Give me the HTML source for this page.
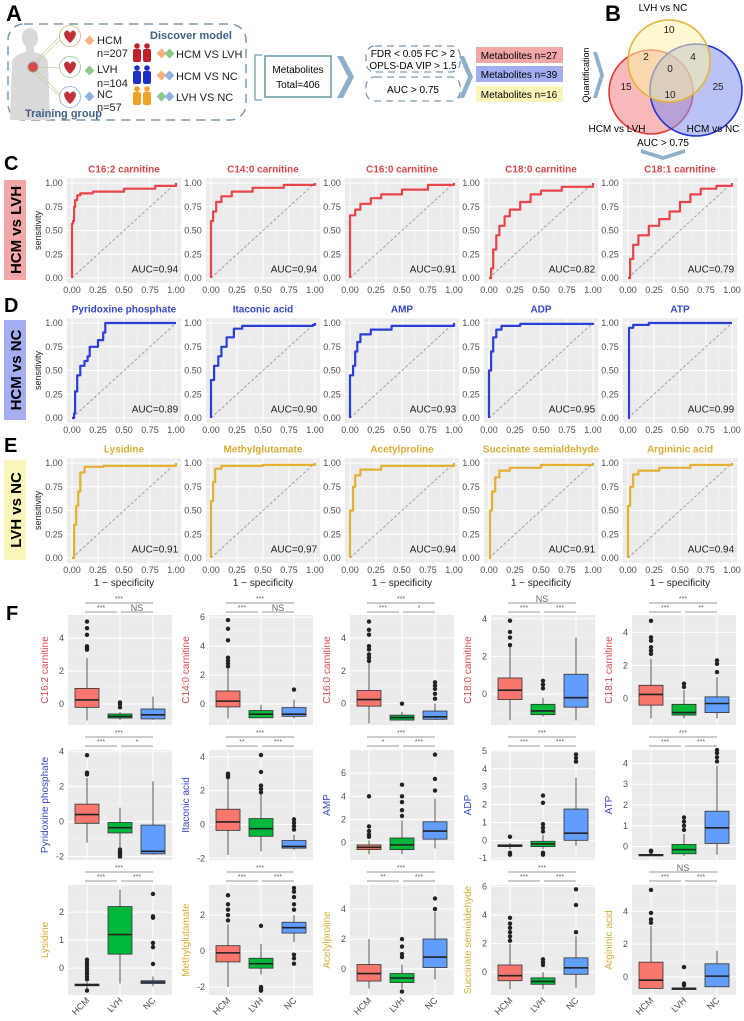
<!DOCTYPE html>
<html><head><meta charset="utf-8"><style>
html,body{margin:0;padding:0;background:#fff;}
svg{display:block;font-family:"Liberation Sans",Arial,sans-serif;}
</style></head><body>
<svg id="fig" width="744" height="1021" viewBox="0 0 744 1021" xmlns="http://www.w3.org/2000/svg">
<!-- Panel A -->
<g>
<text x="6" y="21" font-size="22" font-weight="bold">A</text>
<rect x="8" y="24" width="238" height="96" rx="16" fill="none" stroke="#7a9bb0" stroke-width="1.5" stroke-dasharray="9,6"/>
<g fill="#d9d9d9">
<ellipse cx="30" cy="38" rx="8" ry="10"/>
<rect x="26" y="46" width="8" height="8"/>
<path d="M10 120 L12 62 Q14 54 26 52 L34 52 Q46 54 48 62 L50 120 Z"/>
</g>
<g stroke="#c9c79a" stroke-width="0.7">
<line x1="36" y1="64" x2="62" y2="38"/><line x1="36" y1="67" x2="60" y2="68"/><line x1="36" y1="70" x2="62" y2="96"/>
<line x1="33" y1="64" x2="64" y2="32"/><line x1="33" y1="72" x2="64" y2="100"/>
</g>
<circle cx="33" cy="67" r="5" fill="#d44" stroke="#999"/>
<g>
<circle cx="70" cy="36" r="10.5" fill="#fff" stroke="#d9c08a" stroke-width="1"/><path d="M64 33 q3-5 6 0 q3-5 6 0 q0 5-6 10 q-6-5-6-10z" fill="#c0323a"/>
<circle cx="70" cy="67" r="10.5" fill="#fff" stroke="#a8cfa0" stroke-width="1"/><path d="M64 64 q3-5 6 0 q3-5 6 0 q0 5-6 10 q-6-5-6-10z" fill="#c0323a"/>
<circle cx="70" cy="97" r="10.5" fill="#fff" stroke="#9bbbd8" stroke-width="1"/><path d="M64 94 q3-5 6 0 q3-5 6 0 q0 5-6 10 q-6-5-6-10z" fill="#c0323a"/>
</g>
<g>
<rect x="86" y="37" width="7" height="7" fill="#f3b27f" transform="rotate(45 89.5 40.5)"/>
<rect x="86" y="67" width="7" height="7" fill="#8cc98a" transform="rotate(45 89.5 70.5)"/>
<rect x="86" y="93" width="7" height="7" fill="#8fb2e0" transform="rotate(45 89.5 96.5)"/>
</g>
<g font-size="11" fill="#222">
<text x="97" y="44">HCM</text><text x="97" y="57">n=207</text>
<text x="97" y="73">LVH</text><text x="97" y="87">n=104</text>
<text x="97" y="98">NC</text><text x="97" y="111">n=57</text>
</g>
<text x="25" y="117" font-size="11" font-weight="bold" fill="#3f5f86">Training group</text>
<text x="150" y="39" font-size="11" font-weight="bold" fill="#3f5f86">Discover model</text>
<g>
<g fill="#c0202a"><circle cx="137" cy="46" r="2.8"/><rect x="133" y="49" width="8" height="13" rx="2"/><circle cx="147" cy="46" r="2.8"/><rect x="143" y="49" width="8" height="13" rx="2"/></g>
<g fill="#1d2fc8"><circle cx="137" cy="68" r="2.8"/><rect x="133" y="71" width="8" height="13" rx="2"/><circle cx="147" cy="68" r="2.8"/><rect x="143" y="71" width="8" height="13" rx="2"/></g>
<g fill="#f2a227"><circle cx="137" cy="89" r="2.8"/><rect x="133" y="92" width="8" height="13" rx="2"/><circle cx="147" cy="89" r="2.8"/><rect x="143" y="92" width="8" height="13" rx="2"/></g>
</g>
<g>
<rect x="158" y="50" width="7" height="7" fill="#f3b27f" transform="rotate(45 161.5 53.5)"/><rect x="166" y="50" width="7" height="7" fill="#8cc98a" transform="rotate(45 169.5 53.5)"/>
<rect x="158" y="72" width="7" height="7" fill="#f3b27f" transform="rotate(45 161.5 75.5)"/><rect x="166" y="72" width="7" height="7" fill="#8fb2e0" transform="rotate(45 169.5 75.5)"/>
<rect x="158" y="93" width="7" height="7" fill="#8cc98a" transform="rotate(45 161.5 96.5)"/><rect x="166" y="93" width="7" height="7" fill="#8fb2e0" transform="rotate(45 169.5 96.5)"/>
</g>
<g font-size="11" fill="#222">
<text x="176" y="58">HCM VS LVH</text><text x="176" y="80">HCM VS NC</text><text x="176" y="101">LVH VS NC</text>
</g>
<path d="M262 55 L255 55 L255 100 L262 100" fill="none" stroke="#6fa0b0" stroke-width="1.3"/>
<rect x="265" y="56" width="66" height="41" fill="#fff" stroke="#4a8a96" stroke-width="1.3"/>
<text x="298" y="73" font-size="10" text-anchor="middle">Metabolites</text>
<text x="298" y="88" font-size="10" text-anchor="middle">Total=406</text>
<path d="M337 56 L348 77 L337 98 L343 98 L354 77 L343 56Z" fill="#8fb0c8"/>
<rect x="366" y="46" width="94" height="26" rx="9" fill="none" stroke="#7a9bb0" stroke-dasharray="7,5" stroke-width="1.3"/>
<text x="413" y="57" font-size="10" text-anchor="middle">FDR &lt; 0.05 FC &gt; 2</text>
<text x="413" y="69" font-size="10" text-anchor="middle">OPLS-DA VIP &gt; 1.5</text>
<rect x="366" y="77" width="94" height="24" rx="9" fill="none" stroke="#7a9bb0" stroke-dasharray="7,5" stroke-width="1.3"/>
<text x="413" y="93" font-size="10" text-anchor="middle">AUC &gt; 0.75</text>
<path d="M459 56 L468 77 L459 98 L464 98 L473 77 L464 56Z" fill="#8fb0c8"/>
<rect x="476" y="47" width="87" height="16" fill="#f4a7a7"/>
<text x="519" y="59" font-size="10" text-anchor="middle">Metabolites n=27</text>
<rect x="476" y="66" width="87" height="16" fill="#a3aef2"/>
<text x="519" y="78" font-size="10" text-anchor="middle">Metabolites n=39</text>
<rect x="476" y="86" width="87" height="16" fill="#fbf6b9"/>
<text x="519" y="98" font-size="10" text-anchor="middle">Metabolites n=16</text>
<text x="0" y="0" font-size="9" text-anchor="middle" transform="translate(589 75) rotate(-90)">Quantification</text>
<path d="M593 52 L600 75 L593 98 L597 98 L604 75 L597 52Z" fill="#8fb0c8"/>
</g>
<!-- Panel B -->
<g>
<text x="605" y="21" font-size="22" font-weight="bold">B</text>
<circle cx="651" cy="92" r="42" fill="#f28a8a" fill-opacity="0.6" stroke="#e23b3b" stroke-width="1.6"/>
<circle cx="696" cy="90" r="46" fill="#8390ef" fill-opacity="0.55" stroke="#2234d6" stroke-width="1.6"/>
<circle cx="669" cy="61" r="41" fill="#fbf2a8" fill-opacity="0.55" stroke="#e2b43a" stroke-width="1.6"/>
<g font-size="10" text-anchor="middle" fill="#222">
<text x="669" y="33">10</text><text x="646" y="60">2</text><text x="693" y="60">4</text><text x="670" y="72">0</text>
<text x="626" y="90">15</text><text x="670" y="98">10</text><text x="718" y="90">25</text>
</g>
<text x="663" y="11" font-size="10" text-anchor="middle">LVH vs NC</text>
<text x="617" y="132" font-size="10" text-anchor="middle">HCM vs LVH</text>
<text x="713" y="132" font-size="10" text-anchor="middle">HCM vs NC</text>
<text x="663" y="146" font-size="10" text-anchor="middle">AUC &gt; 0.75</text>
<path d="M641 149 L663 156 L685 149 L685 153 L663 160 L641 153Z" fill="#8fb0c8"/>
</g>
<!-- Row labels -->
<text x="4" y="170" font-size="20" font-weight="bold">C</text>
<text x="4" y="312" font-size="20" font-weight="bold">D</text>
<text x="4" y="452" font-size="20" font-weight="bold">E</text>
<text x="6" y="620" font-size="20" font-weight="bold">F</text>
<rect x="4" y="180" width="22" height="100" fill="#f4a7a7"/>
<text font-size="15" font-weight="bold" text-anchor="middle" transform="translate(21 230) rotate(-90)">HCM vs LVH</text>
<rect x="4" y="320" width="22" height="100" fill="#a3aef2"/>
<text font-size="15" font-weight="bold" text-anchor="middle" transform="translate(21 370) rotate(-90)">HCM vs NC</text>
<rect x="4" y="460" width="22" height="100" fill="#fbf6b9"/>
<text font-size="15" font-weight="bold" text-anchor="middle" transform="translate(21 510) rotate(-90)">LVH vs NC</text>
<g id="roc"></g>
<g id="box"></g>
</svg>
<script>
// ---------- ROC data ----------
const rocTitles = ["C16:2 carnitine","C14:0 carnitine","C16:0 carnitine","C18:0 carnitine","C18:1 carnitine",
 "Pyridoxine phosphate","Itaconic acid","AMP","ADP","ATP",
 "Lysidine","Methylglutamate","Acetylproline","Succinate semialdehyde","Argininic acid"];
const rocAuc = ["0.94","0.94","0.91","0.82","0.79","0.89","0.90","0.93","0.95","0.99","0.91","0.97","0.94","0.91","0.94"];
const rocFpr = [
 [0,0,0.01,0.02,0.03,0.05,0.08,0.2,0.5,0.8,1],
 [0,0,0.02,0.05,0.1,0.2,0.4,0.7,1],
 [0,0,0.05,0.1,0.2,0.3,0.5,0.75,1],
 [0,0.02,0.04,0.07,0.1,0.15,0.2,0.3,0.4,0.5,0.7,1],
 [0,0.02,0.05,0.1,0.2,0.3,0.4,0.5,0.6,0.7,0.85,1],
 [0,0.02,0.03,0.05,0.08,0.12,0.15,0.17,0.25,0.3,0.32,1],
 [0,0,0.03,0.07,0.1,0.15,0.22,0.3,0.98,1],
 [0,0,0.03,0.05,0.07,0.1,0.2,0.4,1],
 [0,0,0.02,0.04,0.07,0.12,0.3,1],
 [0,0.01,0.05,0.2,1],
 [0,0.02,0.04,0.06,0.08,0.12,0.3,1],
 [0,0,0.02,0.04,0.1,0.5,1],
 [0,0,0.03,0.05,0.1,0.3,1],
 [0,0.01,0.03,0.06,0.1,0.2,0.5,1],
 [0,0,0.02,0.05,0.1,0.3,0.6,1]
];
const rocTpr = [
 [0,0.57,0.6,0.75,0.82,0.87,0.89,0.91,0.94,0.97,1],
 [0,0.6,0.7,0.8,0.86,0.91,0.95,0.98,1],
 [0,0.66,0.72,0.78,0.84,0.88,0.93,0.98,1],
 [0,0.1,0.3,0.45,0.55,0.65,0.72,0.8,0.88,0.92,0.96,1],
 [0,0.2,0.35,0.45,0.55,0.62,0.7,0.8,0.88,0.94,0.97,1],
 [0,0.05,0.28,0.45,0.55,0.6,0.65,0.75,0.82,0.9,1,1],
 [0,0.4,0.55,0.65,0.75,0.85,0.94,0.97,0.98,1],
 [0,0.45,0.55,0.7,0.8,0.88,0.93,0.97,1],
 [0,0.5,0.7,0.85,0.93,0.97,0.99,1],
 [0,0.95,0.98,1,1],
 [0,0.35,0.55,0.7,0.9,0.96,0.97,1],
 [0,0.6,0.8,0.94,0.97,0.98,1],
 [0,0.5,0.75,0.87,0.93,0.97,1],
 [0,0.5,0.7,0.85,0.92,0.95,0.98,1],
 [0,0.55,0.75,0.88,0.92,0.95,0.98,1]
];
const rocTicks = [0,0.25,0.5,0.75,1];
const rocTickLabels = ["0.00","0.25","0.50","0.75","1.00"];
const rowColors = ["#e8444a","#2a3fd8","#e2b032"];
const titleColors = ["#d9474c","#3448c8","#d9ac36"];

// ---------- Boxplot data ----------
const boxLabels = rocTitles;
const boxGroups = ["HCM","LVH","NC"];
const boxYMin = [-1.27,-1.45,-1.3,-1.65,-1.6, -2.2,-2.1,-1.5,-1.1,-0.65, -0.96,-2.44,-1.73,-1.6,-1.1];
const boxYMax = [5.4,6.15,5.4,4.2,5.05, 4.1,4.4,8,5.05,4.65, 2.97,3.67,5.6,6.1,5.6];
const boxTicks = [[0,2,4],[0,2,4,6],[0,2,4],[0,2,4],[0,2,4],
 [-2,0,2,4],[-2,0,2,4],[0,2,4,6],[-1,0,1,2,3,4,5],[0,1,2,3,4],
 [0,1,2],[-2,0,2],[0,2,4],[0,2,4,6],[0,2,4]];
// each group: [lower whisker, q1, median, q3, upper whisker]
const boxStats = [
 [[-1,-0.2,0.25,0.95,2.8],[-0.95,-0.85,-0.75,-0.6,-0.5],[-0.95,-0.9,-0.65,-0.3,0.45]],
 [[-1,-0.2,0.2,0.9,2.5],[-1,-0.95,-0.7,-0.45,-0.05],[-1,-0.85,-0.7,-0.25,0.3]],
 [[-1.2,-0.15,0.25,0.8,2.5],[-1,-1,-0.85,-0.7,-0.5],[-1,-0.95,-0.8,-0.45,0]],
 [[-1.4,-0.3,0.2,0.85,2.5],[-1.2,-1.1,-0.9,-0.55,-0.2],[-1.4,-0.7,-0.2,1.05,3]],
 [[-1.2,-0.4,0.25,0.8,2.4],[-1.2,-1,-0.85,-0.35,0.5],[-1.2,-0.85,-0.3,0.1,1.3]],
 [[-1.2,-0.1,0.4,1,2.5],[-1.5,-0.65,-0.35,-0.05,0.8],[-1.9,-1.85,-1.7,-0.2,2.3]],
 [[-1.8,-0.35,0.15,0.9,2.7],[-1.6,-0.7,-0.25,0.35,1.8],[-1.5,-1.4,-1.3,-0.95,-0.6]],
 [[-1,-0.6,-0.4,-0.2,0.2],[-1,-0.6,-0.2,0.4,1.9],[-0.5,0.3,1,1.8,3.8]],
 [[-0.5,-0.35,-0.3,-0.25,-0.15],[-0.5,-0.35,-0.2,-0.05,0.3],[-0.3,0,0.4,1.75,3.5]],
 [[-0.45,-0.42,-0.4,-0.38,-0.35],[-0.45,-0.35,-0.15,0.1,0.6],[-0.4,0.15,0.9,1.7,3.9]],
 [[-0.75,-0.63,-0.6,-0.57,-0.5],[-0.55,0.5,1.2,2.2,2.8],[-0.65,-0.55,-0.5,-0.45,-0.3]],
 [[-2,-0.6,-0.1,0.3,1.5],[-1.3,-0.95,-0.7,-0.4,0.4],[0.5,1,1.3,1.6,2]],
 [[-1.3,-0.8,-0.3,0.3,2],[-1.3,-0.9,-0.6,-0.3,0.3],[-0.7,0.1,0.8,2,3.8]],
 [[-1.2,-0.6,-0.25,0.5,2],[-1.2,-0.85,-0.65,-0.4,0],[-1.1,-0.15,0.3,1,2.5]],
 [[-0.7,-0.7,-0.2,0.9,3.1],[-0.7,-0.72,-0.7,-0.68,-0.6],[-0.6,-0.6,0.05,0.8,1.6]]
];
const boxOutliers = [
 [[3.3,3.4,3.5,4.2,4.6,5.0],[-0.2,0,0.1],[]],
 [[2.6,2.8,3,3.2,4.4,5.2,5.8],[],[1]],
 [[2.6,2.8,3,3.3,3.5,4.2,4.5,5],[0],[0.3,0.6,0.9,1.1,1.3]],
 [[2.6,3,3.3,3.9],[0.3,0.5,0.7],[]],
 [[2.7,2.9,3.1,3.5,3.7,4.7],[0.7,0.9],[1.6,2.1,2.3]],
 [[2.7,2.8,3.8],[-1.6,-1.7,-1.8,-1.9,-2],[]],
 [[2.8,2.9,3],[1.9,2.1,2.3,3.1,4.1],[-0.3,-0.1,0.1,0.3]],
 [[0.5,0.7,1,1.4,4],[2.3,2.8,3.5,4,5],[4.5,5.5,7.6]],
 [[0.2,-0.7,-0.8],[0.5,0.7,0.9,2.1,2.5,-0.7,-0.8],[4.4,4.6,4.8]],
 [[-0.25,-0.2],[0.8,1,1.2,1.4],[4.1,4.3,4.5,4.65]],
 [[-0.8,-0.4,-0.3,-0.2,-0.1,0,0.1,0.2,0.3],[],[0.15,0.75,0.9,1.8,1.85,2.65]],
 [[1.7,2,2.3,2.6,3.1],[1.4,-2,-2.1,-2.2],[2.3,2.6,3,3.3,3.5,-0.2,-0.4,-0.7]],
 [[],[0.8,1,1.5,2,-1.5],[4,4.7]],
 [[2.2,2.5,2.8,3.1,3.4,3.8],[0.5,0.7,0.9],[2.8,4.7,5.8]],
 [[3.3,3.5,3.9,5.3],[-0.5,-0.4,0.6],[]]
];
// significance labels: [HCM-NC (top), HCM-LVH, LVH-NC]
const sigLabels = [
 ["***","***","NS"],["***","***","NS"],["***","***","*"],["NS","***","***"],["***","***","**"],
 ["***","***","*"],["***","**","***"],["***","*","***"],["***","***","***"],["***","***","***"],
 ["***","***","***"],["***","***","***"],["***","**","***"],["***","***","***"],["NS","***","***"]
];
const boxFills = ["#f8766d","#00b83a","#619cff"];

const NS = "http://www.w3.org/2000/svg";
function mk(tag, attrs, parent){
  const e = document.createElementNS(NS, tag);
  for (const k in attrs) e.setAttribute(k, attrs[k]);
  parent.appendChild(e);
  return e;
}
function txt(str, attrs, parent){ const e = mk("text", attrs, parent); e.textContent = str; return e; }

// ---------- ROC ----------
const rocG = document.getElementById("roc");
function rocX(col, v){ return 72 + col*139 + v*104; }
function rocY(row, v){ return 278 + row*140 - v*95; }
for (let i = 0; i < 15; i++){
  const row = Math.floor(i/5), col = i%5;
  const g = mk("g", {}, rocG);
  
  
  const x0 = rocX(col, -0.05), x1 = rocX(col, 1.05), y0 = rocY(row, 1.05), y1 = rocY(row, -0.05);
  const bg = mk("rect", {x:x0, y:y0, width:x1-x0, height:y1-y0, fill:"#ebebeb"}, g);
  
  
  for (let t = 0; t < 4; t++){
    const m = (rocTicks[t]+rocTicks[t+1])/2;
    mk("line", {x1:rocX(col,m), x2:rocX(col,m), y1:y0, y2:y1, stroke:"#f5f5f5", "stroke-width":0.5}, g);
    mk("line", {x1:x0, x2:x1, y1:rocY(row,m), y2:rocY(row,m), stroke:"#f5f5f5", "stroke-width":0.5}, g);
  }
  rocTicks.forEach((t, k) => {
    mk("line", {x1:rocX(col,t), x2:rocX(col,t), y1:y0, y2:y1, stroke:"#fff", "stroke-width":1}, g);
    mk("line", {x1:x0, x2:x1, y1:rocY(row,t), y2:rocY(row,t), stroke:"#fff", "stroke-width":1}, g);
    const yl = txt(rocTickLabels[k], {x:x0-4, y:rocY(row,t)+3, "font-size":9, fill:"#4d4d4d", "text-anchor":"end"}, g);
    
    
    const xl = txt(rocTickLabels[k], {x:rocX(col,t), y:y1+10, "font-size":9, fill:"#4d4d4d", "text-anchor":"middle"}, g);
    
    
  });
  const diag = mk("line", {x1:rocX(col,0), y1:rocY(row,0), x2:rocX(col,1), y2:rocY(row,1), stroke:"#999", "stroke-dasharray":"3,2", "stroke-width":0.9}, g);
  
  
  let pts = [];
  for (let k = 0; k < rocFpr[i].length; k++){
    if (k > 0) pts.push(rocX(col, rocFpr[i][k]).toFixed(1) + "," + rocY(row, rocTpr[i][k-1]).toFixed(1));
    pts.push(rocX(col, rocFpr[i][k]).toFixed(1) + "," + rocY(row, rocTpr[i][k]).toFixed(1));
  }
  const curve = mk("polyline", {points:pts.join(" "), fill:"none", stroke:rowColors[row], "stroke-width":2.2, "stroke-linejoin":"round"}, g);
  
  
  const ttl = txt(rocTitles[i], {x:(x0+x1)/2, y:y0-6, "font-size":10, "font-weight":"bold", fill:titleColors[row], "text-anchor":"middle"}, g);
  
  
  const auc = txt("AUC=" + rocAuc[i], {x:x1-3, y:rocY(row,0.06), "font-size":10, fill:"#222", "text-anchor":"end"}, g);
  
  
  if (col === 0){
    const yt = txt("sensitivity", {x:0, y:0, "font-size":9, fill:"#222", "text-anchor":"middle", transform:"translate(41 " + ((y0+y1)/2) + ") rotate(-90)"}, g);
    
    
  }
  if (row === 2){
    const xt = txt("1 \u2212 specificity", {x:(x0+x1)/2, y:y1+23, "font-size":10, fill:"#222", "text-anchor":"middle"}, g);
    
    
  }
}

// ---------- Boxplots ----------
const boxG = document.getElementById("box");
const rowTop = [615, 750, 885];
const sigTop = [603, 737, 872];
for (let i = 0; i < 15; i++){
  const row = Math.floor(i/5), col = i%5;
  const g = mk("g", {}, boxG);
  
  
  const bx0 = 68 + col*141, bx1 = bx0 + 104, by0 = rowTop[row], by1 = by0 + 110;
  const ys = v => by1 - (v - boxYMin[i]) / (boxYMax[i] - boxYMin[i]) * 110;
  const xs = k => bx0 + 19 + k*33;
  const bg = mk("rect", {x:bx0, y:by0, width:104, height:110, fill:"#ebebeb"}, g);
  
  
  const tk = boxTicks[i];
  const step = tk[1]-tk[0];
  for (let v = tk[0]-step/2; v <= boxYMax[i]; v += step){
    if (v < boxYMin[i]) continue;
    mk("line", {x1:bx0, x2:bx1, y1:ys(v), y2:ys(v), stroke:"#f5f5f5", "stroke-width":0.5}, g);
  }
  tk.forEach(t => {
    mk("line", {x1:bx0, x2:bx1, y1:ys(t), y2:ys(t), stroke:"#fff", "stroke-width":1}, g);
    const l = txt(String(t), {x:bx0-4, y:ys(t)+3, "font-size":9, fill:"#4d4d4d", "text-anchor":"end"}, g);
    
    
  });
  for (let k = 0; k < 3; k++) mk("line", {x1:xs(k), x2:xs(k), y1:by0, y2:by1, stroke:"#fff", "stroke-width":1}, g);
  for (let k = 0; k < 3; k++){
    const s = boxStats[i][k], cx = xs(k);
    const w = mk("line", {x1:cx, x2:cx, y1:ys(s[0]), y2:ys(s[4]), stroke:"#333", "stroke-width":0.8}, g);
    
    
    const b = mk("rect", {x:cx-12, y:ys(s[3]), width:24, height:Math.max(1.5, ys(s[1])-ys(s[3])), fill:boxFills[k], stroke:"#333", "stroke-width":0.8}, g);
    
    
    const md = mk("line", {x1:cx-12, x2:cx+12, y1:ys(s[2]), y2:ys(s[2]), stroke:"#222", "stroke-width":1.6}, g);
    
    
    boxOutliers[i][k].forEach(o => {
      const c = mk("circle", {cx:cx, cy:ys(o), r:2.2, fill:"#222"}, g);
      
      
    });
  }
  // significance brackets
  const sg = sigLabels[i];
  const bars = [[xs(0)-2, xs(2), sigTop[row], sg[0]], [xs(0)-2, xs(1)-3, sigTop[row]+9, sg[1]], [xs(1)+1, xs(2), sigTop[row]+9, sg[2]]];
  bars.forEach(b => {
    const ln = mk("line", {x1:b[0], x2:b[1], y1:b[2], y2:b[2], stroke:"#777", "stroke-width":0.8}, g);
    
    
    const isNS = b[3] === "NS";
    const st = txt(b[3], {x:(b[0]+b[1])/2, y:b[2] - (isNS ? 1 : 2), "font-size":isNS ? 9 : 7, fill:"#666", "text-anchor":"middle"}, g);
    
    
  });
  const yt = txt(boxLabels[i], {x:0, y:0, "font-size":10, fill:titleColors[row], "text-anchor":"middle", transform:"translate(" + (bx0-20) + " " + ((by0+by1)/2) + ") rotate(-90)"}, g);
  
  
  if (row === 2){
    for (let k = 0; k < 3; k++){
      const xl = txt(boxGroups[k], {x:0, y:0, "font-size":9, fill:"#4d4d4d", "text-anchor":"end", transform:"translate(" + (xs(k)+3) + " " + (by1+6) + ") rotate(-45)"}, g);
      
      
    }
  }
}
</script>
</body></html>
